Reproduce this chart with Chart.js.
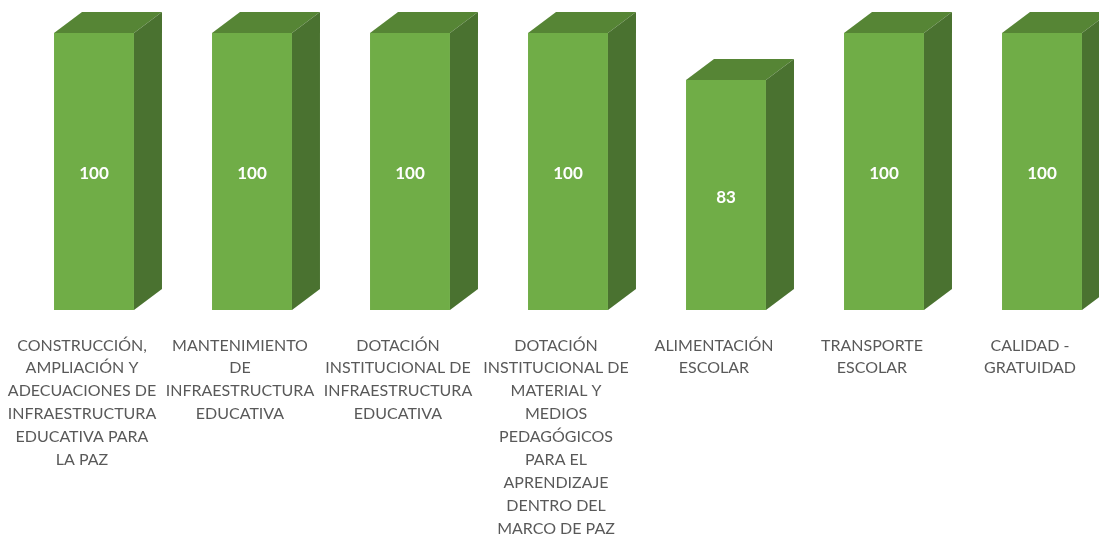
<!DOCTYPE html>
<html>
<head>
<meta charset="utf-8">
<script src="https://cdn.jsdelivr.net/npm/chart.js@4.4.1/dist/chart.umd.min.js"></script>
<style>
  html, body { margin: 0; padding: 0; background: #fff; overflow: hidden; }
  #wrap { position: relative; width: 1125px; height: 535px; }
</style>
</head>
<body>
<div id="wrap"><canvas id="c"></canvas></div>
<script>
const categories = [
  ["CONSTRUCCIÓN,", "AMPLIACIÓN Y", "ADECUACIONES DE", "INFRAESTRUCTURA", "EDUCATIVA PARA", "LA PAZ"],
  ["MANTENIMIENTO", "DE", "INFRAESTRUCTURA", "EDUCATIVA"],
  ["DOTACIÓN", "INSTITUCIONAL DE", "INFRAESTRUCTURA", "EDUCATIVA"],
  ["DOTACIÓN", "INSTITUCIONAL DE", "MATERIAL Y", "MEDIOS", "PEDAGÓGICOS", "PARA EL", "APRENDIZAJE", "DENTRO DEL", "MARCO DE PAZ"],
  ["ALIMENTACIÓN", "ESCOLAR"],
  ["TRANSPORTE", "ESCOLAR"],
  ["CALIDAD -", "GRATUIDAD"]
];
const values = [100, 100, 100, 100, 83, 100, 100];

const DX = 28, DY = -21;
const FRONT = '#70AD47', TOP = '#568535', SIDE = '#4A7230';

const bar3d = {
  id: 'bar3d',
  afterDatasetsDraw(chart) {
    const ctx = chart.ctx;
    const meta = chart.getDatasetMeta(0);
    ctx.save();
    meta.data.forEach((el, i) => {
      const p = el.getProps(['x', 'y', 'base', 'width'], true);
      const l = p.x - p.width / 2, r = p.x + p.width / 2;
      ctx.fillStyle = TOP;
      ctx.beginPath();
      ctx.moveTo(l, p.y); ctx.lineTo(l + DX, p.y + DY); ctx.lineTo(r + DX, p.y + DY); ctx.lineTo(r, p.y);
      ctx.closePath(); ctx.fill();
      ctx.fillStyle = SIDE;
      ctx.beginPath();
      ctx.moveTo(r, p.y); ctx.lineTo(r + DX, p.y + DY); ctx.lineTo(r + DX, p.base + DY); ctx.lineTo(r, p.base);
      ctx.closePath(); ctx.fill();
      ctx.fillStyle = '#FFFFFF';
      ctx.font = 'bold 17px Lato, "Open Sans", sans-serif';
      ctx.textAlign = 'center';
      ctx.textBaseline = 'middle';
      ctx.fillText(String(values[i]), p.x, (p.y + p.base) / 2 + 2);
    });
    ctx.restore();
  }
};

new Chart(document.getElementById('c'), {
  type: 'bar',
  data: {
    labels: categories,
    datasets: [{
      data: values,
      backgroundColor: FRONT,
      borderWidth: 0,
      categoryPercentage: 1,
      barPercentage: 0.506
    }]
  },
  options: {
    responsive: true,
    maintainAspectRatio: false,
    animation: false,
    layout: { padding: { top: 33, left: 15, right: 4, bottom: 0 } },
    plugins: { legend: { display: false }, tooltip: { enabled: false } },
    scales: {
      x: {
        grid: { display: false },
        border: { display: false },
        afterFit(scale) { scale.height = 225; scale.paddingLeft = 0; scale.paddingRight = 0; },
        ticks: {
          autoSkip: false,
          maxRotation: 0,
          minRotation: 0,
          padding: 16,
          labelOffset: -12,
          color: '#595959',
          font: { family: 'Lato, "Open Sans", sans-serif', size: 16, lineHeight: 1.43 }
        }
      },
      y: {
        display: false,
        min: 0,
        max: 100
      }
    }
  },
  plugins: [bar3d]
});
</script>
</body>
</html>
